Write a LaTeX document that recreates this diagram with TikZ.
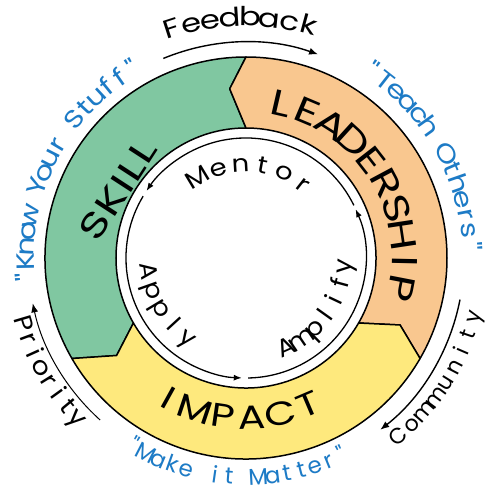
\documentclass[tikz,border=0pt]{standalone}
\usepackage{fontspec}
\newfontfamily\hand{Poppins}
\usetikzlibrary{arrows.meta}
\definecolor{skillgreen}{HTML}{80C7A1}
\definecolor{leadorange}{HTML}{F9C78F}
\definecolor{impactyellow}{HTML}{FEE97D}
\definecolor{kblue}{HTML}{1D7BC6}
\newdimen\arcTot \newdimen\arcPos \newdimen\arcGap \newdimen\arcW \newcount\arcN
% #1 baseline radius, #2 centre angle, #3 direction (1 = ccw, tops in; -1 = cw, tops out),
% #4 font size, #5 span in degrees, #6 colour, #7 comma list of characters, #8 horizontal stretch
\newcommand\arcchars[8]{%
  \global\arcTot=0pt \global\arcN=0
  \foreach \arcch in {#7}{\setbox0=\hbox{\hand\fontsize{#4}{#4}\selectfont\arcch}%
    \global\advance\arcTot by #8\wd0 \global\advance\arcN by 1 }%
  \pgfmathsetlength\arcGap{(#5/57.29578*#1-\the\arcTot)/(\the\arcN-1)}%
  \global\arcGap=\arcGap
  \pgfmathsetlength\arcPos{-0.5*#5/57.29578*#1}%
  \global\arcPos=\arcPos
  \foreach \arcch in {#7}{%
    \setbox0=\hbox{\hand\fontsize{#4}{#4}\selectfont\arcch}%
    \global\arcW=#8\wd0
    \pgfmathsetmacro\arcA{#2+(#3)*(\the\arcPos+0.5*\the\arcW)/#1*57.29578}%
    \node[font=\hand\fontsize{#4}{#4}\selectfont,text=#6,inner sep=0,anchor=base,
      rotate=\arcA+(#3)*90,xscale=#8] at (\arcA:#1) {\arcch};
    \global\advance\arcPos by \arcW \global\advance\arcPos by \arcGap }}
\begin{document}
\begin{tikzpicture}[x=1pt,y=1pt,
  ring/.style={draw=black,line width=1.5pt,line join=round},
  cyc/.style={draw=black,line width=1.3pt,-{Latex[length=8pt,width=6pt]}},
  outarr/.style={draw=black,line width=1.4pt,-{Latex[length=9pt,width=7pt]}}]
\useasboundingbox (-246,-235) rectangle (245,258);
\fill[white] (-246,-235) rectangle (245,258);
% ring segments
\path[ring,fill=skillgreen] (90:201) -- (95.5:170) -- (90:130)
  arc[start angle=90,end angle=210,radius=130] -- (217:162) -- (210:201)
  arc[start angle=210,end angle=90,radius=201] -- cycle;
\path[ring,fill=leadorange] (330:201) -- (336.5:168) -- (330:130)
  arc[start angle=-30,end angle=90,radius=130] -- (95.5:170) -- (90:201)
  arc[start angle=90,end angle=-30,radius=201] -- cycle;
\path[ring,fill=impactyellow] (210:201) -- (217:162) -- (210:130)
  arc[start angle=210,end angle=330,radius=130] -- (336.5:168) -- (330:201)
  arc[start angle=330,end angle=210,radius=201] -- cycle;
% inner cycle arrows
\draw[cyc] (26:120) arc[start angle=26,end angle=146,radius=120];
\draw[cyc] (149:120) arc[start angle=149,end angle=268,radius=120];
\draw[cyc] (271:120) arc[start angle=271,end angle=384,radius=120];
% outer arrows
\draw[outarr] (112.5:216) arc[start angle=112.5,end angle=70.5,radius=216];
\draw[outarr] (-11:218) arc[start angle=-11,end angle=-52,radius=218];
\draw[outarr,line width=1pt] (228:218) arc[start angle=228,end angle=192,radius=218];
% ring labels
\arcchars{146}{33}{-1}{36}{88}{black}{L,E,A,D,E,R,S,H,I,P}{1.3}
\arcchars{171}{267}{1}{33}{52}{black}{I,M,P,A,C,T}{1.25}
\node[font=\hand\fontsize{35}{35}\selectfont\addfontfeature{LetterSpace=2},rotate=57,xscale=1.35,inner sep=0] (skill) at (-128,68) {SKILL};
% inner labels
\arcchars{86}{86.5}{-1}{24}{69}{black}{M,e,n,t,o,r}{1.15}
\arcchars{106}{211}{1}{24}{46}{black}{A,p,p,l,y}{1.1}
\arcchars{106}{-35.5}{1}{25}{61}{black}{A,m,p,l,i,f,y}{1.05}
% outer labels
\arcchars{232}{91.4}{-1}{26}{33}{black}{F,e,e,d,b,a,c,k}{1.25}
\arcchars{240}{210}{1}{25}{27}{black}{P,r,i,o,r,i,t,y}{1.1}
\arcchars{242}{-32}{1}{22}{35}{black}{C,o,m,m,u,n,i,t,y}{1.0}
\arcchars{212}{153}{-1}{25}{64}{kblue}{",K,n,o,w,\,,Y,o,u,r,\,,S,t,u,f,f,"}{1.2}
\arcchars{217}{29.5}{-1}{25}{53}{kblue}{",T,e,a,c,h,\,,O,t,h,e,r,s,"}{1.2}
\arcchars{227}{267.5}{1}{23}{57}{kblue}{",M,a,k,e,\,,i,t,\,,M,a,t,t,e,r,"}{1.0}
\end{tikzpicture}
\end{document}
